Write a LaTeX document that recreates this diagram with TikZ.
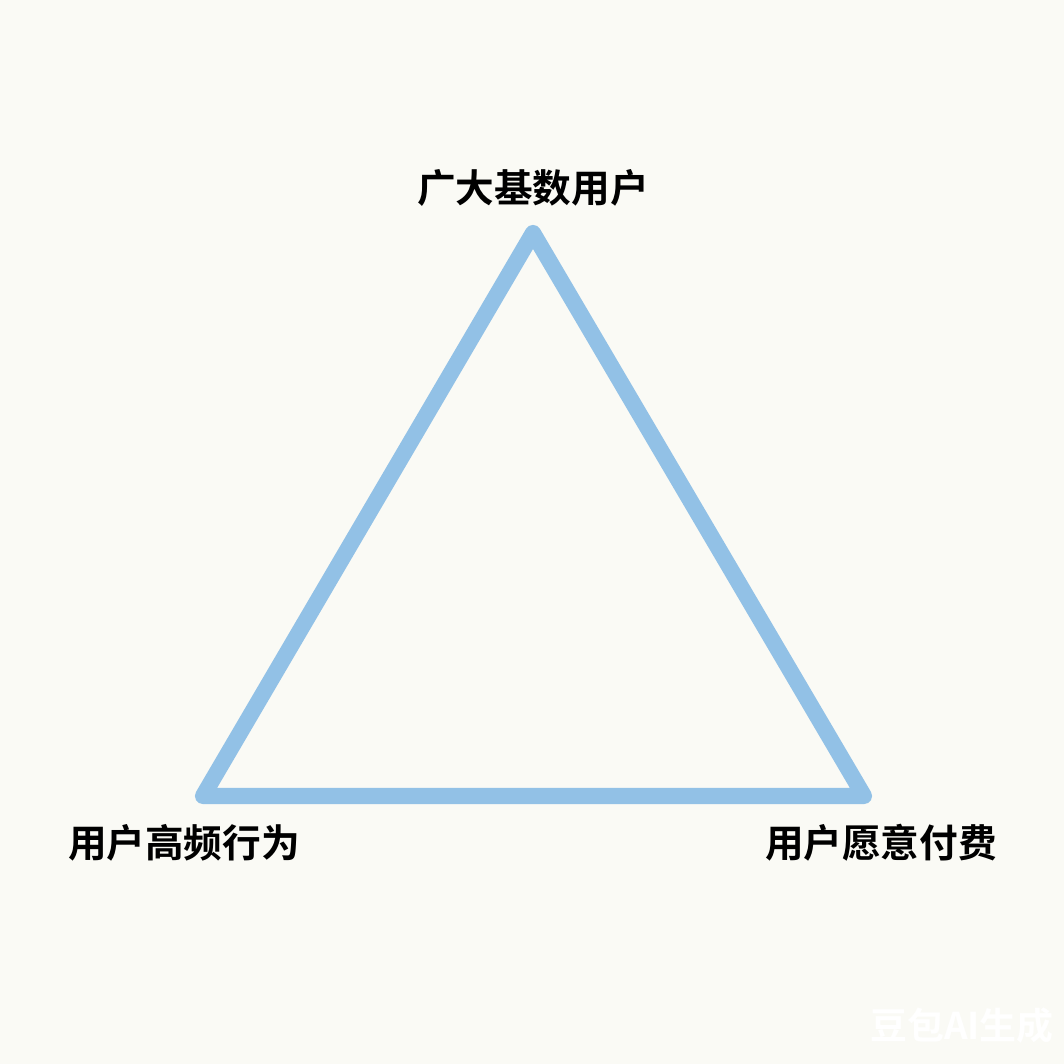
\documentclass[tikz,border=0pt]{standalone}
\usepackage{fontspec}
\newfontfamily\cjk{Noto Sans CJK SC}[BoldFont={Noto Sans CJK SC Bold}]
\definecolor{paper}{HTML}{FAFAF5}
\definecolor{edgeblue}{HTML}{92C1E6}
\tikzset{lbl/.style={font=\cjk\bfseries\fontsize{11pt}{13pt}\selectfont, text=black, inner sep=0pt}}
\begin{document}
\begin{tikzpicture}[line join=round, line cap=round]
			\fill[paper] (0,0) rectangle (10.64,10.64);
			\useasboundingbox (0,0) rectangle (10.64,10.64);
			\coordinate (T) at (5.33,8.31);
			\coordinate (L) at (2.03,2.68);
			\coordinate (R) at (8.64,2.68);
			\draw[edgeblue, line width=4.6pt] (T) -- (L) -- (R) -- cycle;
			\node[lbl] (top) at (5.33,8.76) {广大基数用户};
			\node[lbl] (left) at (1.84,2.21) {用户高频行为};
			\node[lbl] (right) at (8.81,2.21) {用户愿意付费};
			\node[font=\cjk\bfseries\fontsize{10.5pt}{12pt}\selectfont, text=white, inner sep=0pt] (mark) at (9.62,0.38) {豆包AI生成};
		\end{tikzpicture}
\end{document}
